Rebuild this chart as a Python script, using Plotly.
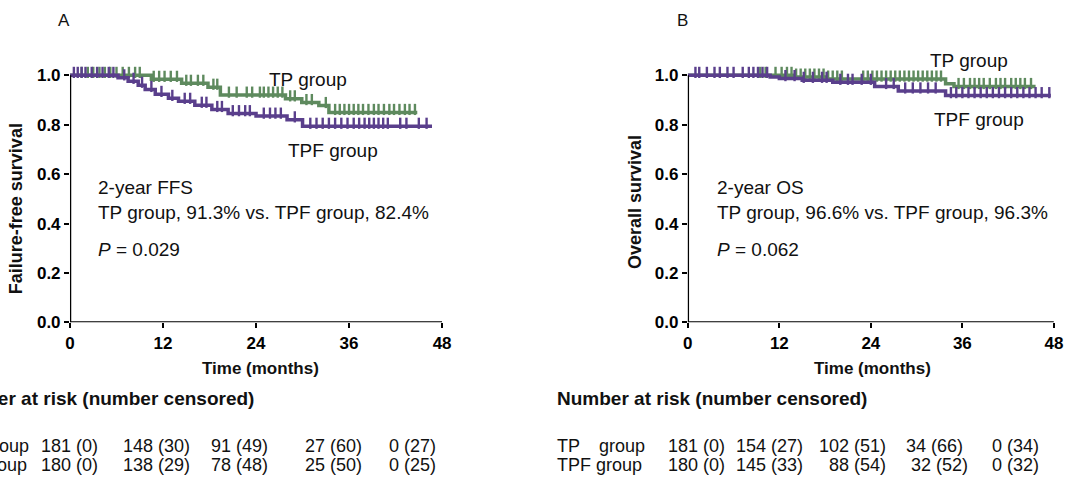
import numpy as np
import plotly.graph_objects as go

# ---------------- data ----------------
months_ticks = [0, 12, 24, 36, 48]
surv_ticks = [0.0, 0.2, 0.4, 0.6, 0.8, 1.0]

# Panel A: failure-free survival (step change points)
a_tp_t = [0, 10.5, 14.4, 17.8, 19.4, 27.8, 29.9, 32.1, 33.4]
a_tp_s = [1.0, 0.984, 0.968, 0.952, 0.92, 0.905, 0.89, 0.878, 0.85]
a_tp_end = 44.8
a_tpf_t = [0, 6.2, 7.5, 8.8, 9.7, 11.0, 12.7, 14.0, 16.1, 18.3, 20.4, 24.0, 28.0, 30.0]
a_tpf_s = [1.0, 0.99, 0.976, 0.96, 0.943, 0.923, 0.907, 0.895, 0.879, 0.862, 0.845, 0.835, 0.82, 0.794]
a_tpf_end = 46.7
a_tp_cens = [1.5, 2.3, 3.0, 3.8, 4.5, 5.2, 6.0, 6.8, 7.6, 8.4, 9.0, 10.8, 11.5, 12.2, 13.0,
             13.8, 15.0, 15.6, 16.5, 17.2, 18.5, 19.0, 20.5, 21.5, 22.8, 23.5, 24.5, 25.0, 25.6,
             26.2, 26.8, 27.4, 28.4, 29.0, 30.5, 31.2, 33.0, 34.2, 34.8, 35.4, 36.0, 36.6, 37.2,
             37.8, 38.5, 39.2, 39.8, 40.5, 41.2, 41.8, 42.5, 43.2, 43.8, 44.5]
a_tpf_cens = [0.5, 1.0, 1.5, 2.0, 2.8, 3.5, 4.2, 5.0, 5.6, 7.0, 8.2, 9.3, 10.5, 11.8, 13.2,
              14.8, 15.5, 17.0, 17.6, 19.0, 19.6, 21.0, 21.8, 22.6, 23.2, 25.0, 25.8, 26.5,
              27.2, 29.0, 31.0, 31.8, 32.6, 33.4, 34.2, 35.0, 35.8, 36.6, 37.3, 38.0, 38.6,
              39.2, 39.8, 40.4, 41.0, 42.6, 43.4, 45.0, 46.0]

# Panel B: overall survival
b_tp_t = [0, 14.0, 18.0, 33.8, 34.9]
b_tp_s = [1.0, 0.993, 0.985, 0.966, 0.955]
b_tp_end = 45.6
b_tpf_t = [0, 10.8, 12.0, 15.0, 19.0, 24.5, 27.6, 33.8]
b_tpf_s = [1.0, 0.993, 0.987, 0.98, 0.972, 0.955, 0.937, 0.918]
b_tpf_end = 47.6
b_tp_cens = [9.5, 10.2, 11.5, 12.3, 13.0, 13.6, 14.2, 14.8, 15.4, 16.0, 16.6, 17.2, 17.8,
             18.4, 19.0, 19.6, 20.2, 23.0, 23.6, 24.2, 24.8, 25.4, 26.0, 26.6, 27.2, 27.8,
             28.4, 29.0, 29.6, 30.2, 30.8, 31.4, 32.0, 32.6, 33.2, 35.5, 36.2, 37.0, 37.6,
             38.2, 38.8, 39.6, 40.4, 41.0, 41.6, 42.4, 43.0, 43.6, 44.2, 45.0]
b_tpf_cens = [1.0, 1.5, 2.5, 3.5, 4.2, 5.2, 6.0, 7.2, 8.0, 8.6, 9.2, 9.8, 10.4, 12.8, 14.0,
              15.2, 16.4, 17.6, 18.2, 20.0, 21.0, 21.6, 22.8, 24.0, 26.0, 27.0, 28.5, 29.5,
              30.5, 31.5, 32.5, 34.5, 35.2, 36.0, 36.8, 37.6, 38.4, 39.2, 40.0, 40.8, 41.6,
              42.4, 43.2, 44.0, 44.8, 45.6, 46.4, 47.4]

# Number at risk tables
a_tp_risk = ["181 (0)", "148 (30)", "91 (49)", "27 (60)", "0 (27)"]
a_tpf_risk = ["180 (0)", "138 (29)", "78 (48)", "25 (50)", "0 (25)"]
b_tp_risk = ["181 (0)", "154 (27)", "102 (51)", "34 (66)", "0 (34)"]
b_tpf_risk = ["180 (0)", "145 (33)", "88 (54)", "32 (52)", "0 (32)"]

# ---------------- styling / layout ----------------
GREEN = "#5E8A5E"
PURPLE = "#5A3F8C"
FONT = "Liberation Sans, Arial, sans-serif"
W, H = 1069, 483

# layout positions are given in reference pixels; small calibration to the renderer
def cx(px):
    return (px - 7.2) / 0.984

def cy(py):
    return (py - 0.7) / 0.977

def px_y(py):
    return 1 - cy(py) / H

def px_x(px):
    return cx(px) / W

Y_TOP = 1.03
y0_py, y1_py = 322, 75
unit = cy(y0_py) - cy(y1_py)
ydom = [1 - cy(y0_py) / H, 1 - (cy(y1_py) - (Y_TOP - 1) * unit) / H]
xdomA = [px_x(72), px_x(443)]
xdomB = [px_x(688), px_x(1053)]
CENS_OFF = 3.0 / unit  # lift censor ticks above the line

fig = go.Figure()


def add_curve(t, s, end, cens, color, xa, ya):
    xs = list(t) + [end]
    ys = list(s) + [s[-1]]
    fig.add_trace(go.Scatter(x=xs, y=ys, mode="lines", line=dict(color=color, width=3.5, shape="hv"),
                             xaxis=xa, yaxis=ya, hoverinfo="skip"))
    tt = np.array(t)
    ss = np.array(s)
    c = np.array(cens)
    cyv = ss[np.searchsorted(tt, c, side="right") - 1] + CENS_OFF
    fig.add_trace(go.Scatter(x=c, y=cyv, mode="markers",
                             marker=dict(symbol="line-ns", size=8, line=dict(color=color, width=2.4)),
                             xaxis=xa, yaxis=ya, hoverinfo="skip", cliponaxis=False))


add_curve(a_tp_t, a_tp_s, a_tp_end, a_tp_cens, GREEN, "x", "y")
add_curve(a_tpf_t, a_tpf_s, a_tpf_end, a_tpf_cens, PURPLE, "x", "y")
add_curve(b_tp_t, b_tp_s, b_tp_end, b_tp_cens, GREEN, "x2", "y2")
add_curve(b_tpf_t, b_tpf_s, b_tpf_end, b_tpf_cens, PURPLE, "x2", "y2")

axis_common = dict(showgrid=False, zeroline=False, showline=False, ticks="outside", ticklen=5,
                   tickwidth=2, tickcolor="black",
                   tickfont=dict(family=FONT, size=17, color="black", weight="bold"))
xax = dict(range=[0, 48], tickvals=months_ticks, ticktext=[str(v) for v in months_ticks], **axis_common)
yax = dict(range=[0, Y_TOP], tickvals=surv_ticks, ticktext=[f"{v:.1f}" for v in surv_ticks], **axis_common)

fig.update_layout(
    autosize=True, margin=dict(l=0, r=0, t=0, b=0),
    paper_bgcolor="white", plot_bgcolor="white", showlegend=False,
    xaxis=dict(domain=xdomA, anchor="y", **xax),
    yaxis=dict(domain=ydom, anchor="x", **yax),
    xaxis2=dict(domain=xdomB, anchor="y2", **xax),
    yaxis2=dict(domain=ydom, anchor="x2", **yax),
)

# axis lines from the axis ranges
for xr, yr in (("x", "y"), ("x2", "y2")):
    fig.add_shape(type="line", xref=xr, yref=yr, x0=months_ticks[0], x1=months_ticks[-1],
                  y0=surv_ticks[0], y1=surv_ticks[0], line=dict(color="black", width=2.5))
    fig.add_shape(type="line", xref=xr, yref=yr, x0=months_ticks[0], x1=months_ticks[0],
                  y0=surv_ticks[0], y1=surv_ticks[-1], line=dict(color="black", width=2.5))

TXT = "#111111"


def note(text, px, py, size=19, bold=False, anchor="left", angle=0):
    fig.add_annotation(text=(f"<b>{text}</b>" if bold else text), x=px_x(px), y=px_y(py),
                       xref="paper", yref="paper", xanchor=anchor, yanchor="middle",
                       showarrow=False, textangle=angle,
                       font=dict(family=FONT, size=size, color=TXT))


# panel letters
note("A", 58, 20, size=17)
note("B", 675, 20, size=17)

# axis titles
note("Failure-free survival", 19, 208, size=18, bold=True, anchor="center", angle=-90)
note("Overall survival", 636, 202, size=18, bold=True, anchor="center", angle=-90)
note("Time (months)", 262, 368, size=17, bold=True, anchor="center")
note("Time (months)", 872, 368, size=17, bold=True, anchor="center")

# in-plot labels A
note("TP group", 268, 79)
note("TPF group", 287, 150)
note("2-year FFS", 98, 187)
note("TP group, 91.3% vs. TPF group, 82.4%", 98, 212)
note("<i>P</i> = 0.029", 98, 249)

# in-plot labels B
note("TP group", 927, 60)
note("TPF group", 931, 119)
note("2-year OS", 715, 187)
note("TP group, 96.6% vs. TPF group, 96.3%", 715, 212)
note("<i>P</i> = 0.062", 715, 249)

# number at risk tables
note("Number at risk (number censored)", -56, 398, size=19, bold=True)
note("Number at risk (number censored)", 556, 398, size=19, bold=True)

ROW1, ROW2 = 446, 465
note("TP", -58, ROW1, size=18)
note("group", -17, ROW1, size=18)
note("TPF group", -58, ROW2, size=18)
note("TP", 556, ROW1, size=18)
note("group", 597, ROW1, size=18)
note("TPF group", 556, ROW2, size=18)

a_cols = [41, 123, 211, 304, 388]
b_cols = [666, 734, 817, 904, 989]
b_cols2 = [666, 734, 827, 909, 989]
for txt, c in zip(a_tp_risk, a_cols):
    note(txt, c, ROW1, size=18)
for txt, c in zip(a_tpf_risk, a_cols):
    note(txt, c, ROW2, size=18)
for txt, c in zip(b_tp_risk, b_cols):
    note(txt, c, ROW1, size=18)
for txt, c in zip(b_tpf_risk, b_cols2):
    note(txt, c, ROW2, size=18)

fig.write_html(
    "out.html",
    default_width="100vw",
    default_height="100vh",
    config={"displayModeBar": False, "responsive": True},
    post_script=("document.body.style.margin='0';document.body.style.overflow='hidden';"
                 "document.documentElement.style.overflow='hidden';"
                 "window.dispatchEvent(new Event('resize'));"),
)
